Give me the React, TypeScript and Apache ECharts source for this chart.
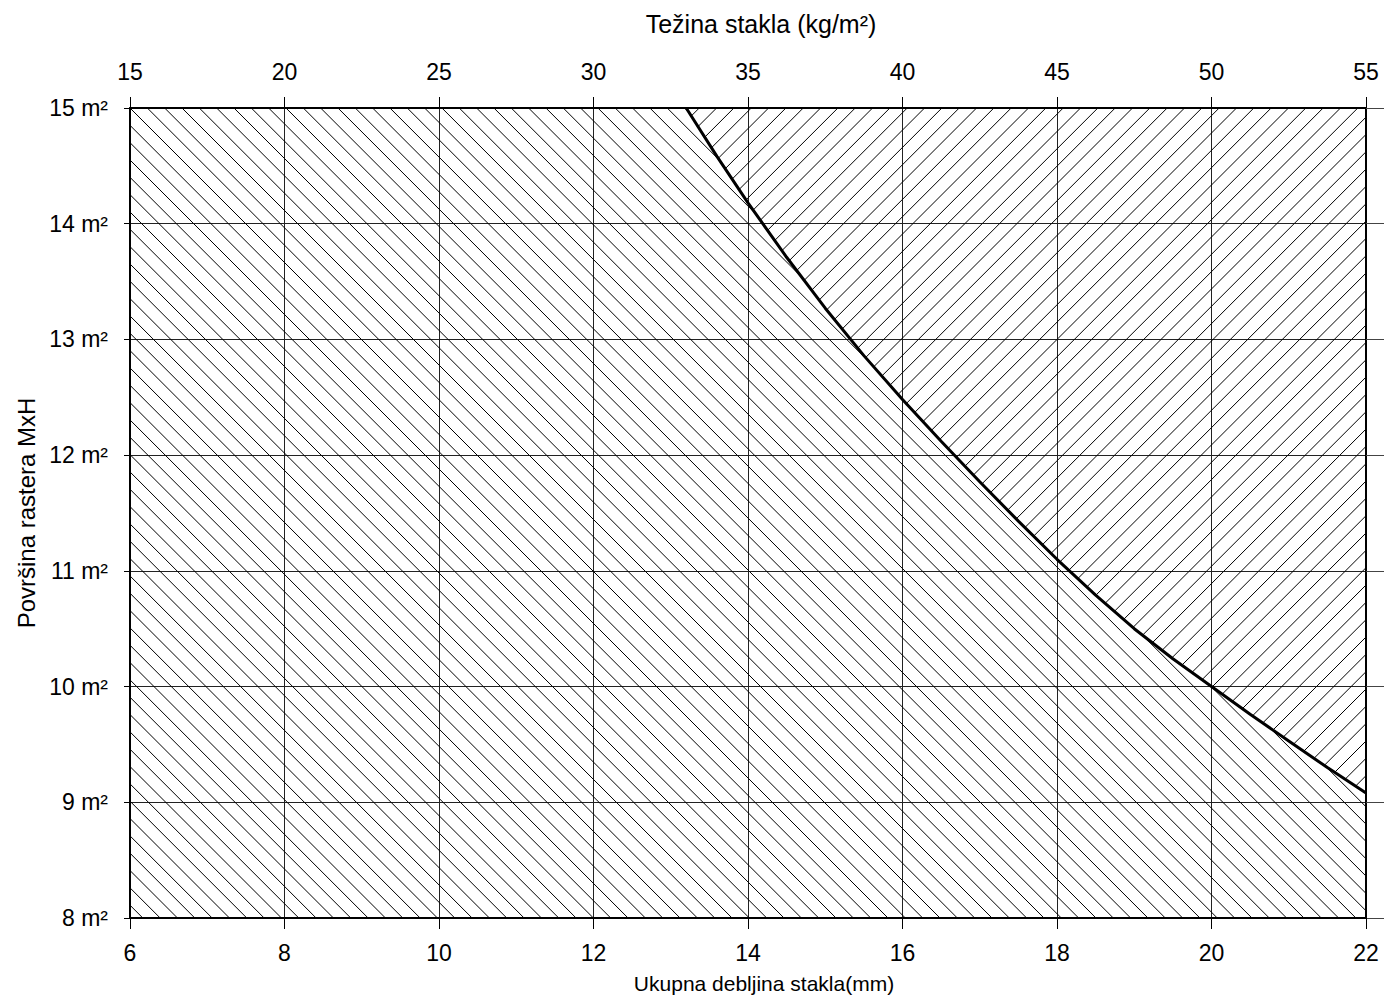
import React, { useEffect, useRef } from "react";
import * as echarts from "echarts";

// Bottom axis: total glass thickness (mm)
const thicknessMin = 6;
const thicknessMax = 22;
const thicknessStep = 2;
// Top axis: glass weight (kg/m²)
const weightMin = 15;
const weightMax = 55;
const weightStep = 5;
// Left axis: raster area (m²)
const areaMin = 8;
const areaMax = 15;
const areaStep = 1;

// Limit curve
const curveThickness = [
  13.2, 13.6, 14, 14.5, 15, 15.5, 16, 16.5, 17, 17.5, 18, 18.5, 19, 19.5, 20, 20.5, 21, 21.5, 22,
];
const curveArea = [
  15.0, 14.58, 14.18, 13.71, 13.27, 12.86, 12.48, 12.12, 11.77, 11.43, 11.1, 10.79, 10.5, 10.24, 10.0,
  9.76, 9.53, 9.3, 9.08,
];

const xTitle = "Ukupna debljina stakla(mm)";
const x2Title = "Težina stakla (kg/m²)";
const yTitle = "Površina rastera MxH";

const FONT = "'Liberation Sans', Arial, Helvetica, sans-serif";

type Pt = [number, number];

function hatchLines(poly: Pt[], dir: number, spacing: number, phase: number) {
  // dir = 1: "\\" lines (x - y = c); dir = -1: "//" lines (x + y = c)
  const vals = poly.map((p) => p[0] - dir * p[1]);
  const cMin = Math.min(...vals);
  const cMax = Math.max(...vals);
  const out: any[] = [];
  const k0 = Math.ceil((cMin - phase) / spacing);
  const n = poly.length;
  for (let c = phase + k0 * spacing; c <= cMax; c += spacing) {
    const xs: number[] = [];
    for (let i = 0; i < n; i++) {
      const a = poly[i];
      const b = poly[(i + 1) % n];
      const fa = vals[i] - c;
      const fb = vals[(i + 1) % n] - c;
      if ((fa < 0) !== (fb < 0)) {
        const t = fa / (fa - fb);
        xs.push(a[0] + t * (b[0] - a[0]));
      }
    }
    xs.sort((p, q) => p - q);
    for (let j = 0; j + 1 < xs.length; j += 2) {
      const x1 = xs[j];
      const x2 = xs[j + 1];
      out.push({
        type: "line",
        shape: { x1, y1: dir * (x1 - c), x2, y2: dir * (x2 - c) },
        style: { stroke: "#000", lineWidth: 1 },
        silent: true,
      });
    }
  }
  return out;
}

export default function App() {
  const ref = useRef<HTMLDivElement>(null);

  useEffect(() => {
    if (!ref.current) return;
    const chart = echarts.init(ref.current, null, { renderer: "svg" });

    const curveData = curveThickness.map((t, i) => [t, curveArea[i]]);

    const renderHatch = (params: any, api: any) => {
      const curvePx: Pt[] = curveData.map((d) => api.coord(d) as Pt);
      const tl = api.coord([thicknessMin, areaMax]) as Pt;
      const tr = api.coord([thicknessMax, areaMax]) as Pt;
      const br = api.coord([thicknessMax, areaMin]) as Pt;
      const bl = api.coord([thicknessMin, areaMin]) as Pt;
      const spacing = 17.33;
      const leftPoly: Pt[] = [tl, ...curvePx, br, bl];
      const rightPoly: Pt[] = [tr, ...curvePx.slice().reverse()];
      const left = hatchLines(leftPoly, 1, spacing, tl[0] - tl[1]);
      const right = hatchLines(rightPoly, -1, spacing, tl[0] + 14.7 + tl[1]);
      return { type: "group", children: [...left, ...right] };
    };

    chart.setOption({
      animation: false,
      backgroundColor: "#fff",
      textStyle: { fontFamily: FONT, color: "#000" },
      grid: { left: 130, right: 32, top: 108, bottom: 85 },
      xAxis: [
        {
          type: "value",
          position: "bottom",
          min: thicknessMin,
          max: thicknessMax,
          interval: thicknessStep,
          name: xTitle,
          nameLocation: "middle",
          nameGap: 55,
          nameTextStyle: { fontSize: 21, color: "#000", fontFamily: FONT, padding: [0, 0, 0, 32] },
          axisLine: { show: true, onZero: false, lineStyle: { color: "#000", width: 2 } },
          axisTick: { show: true, length: 11, lineStyle: { color: "#000", width: 1 } },
          axisLabel: { fontSize: 23, color: "#000", fontFamily: FONT, margin: 23 },
          splitLine: { show: true, lineStyle: { color: "#222", width: 1 } },
        },
        {
          type: "value",
          position: "top",
          min: weightMin,
          max: weightMax,
          interval: weightStep,
          name: x2Title,
          nameLocation: "middle",
          nameGap: 72,
          nameTextStyle: { fontSize: 25, color: "#000", fontFamily: FONT, padding: [0, 0, 0, 26] },
          axisLine: { show: true, onZero: false, lineStyle: { color: "#000", width: 2 } },
          axisTick: { show: true, length: 11, lineStyle: { color: "#000", width: 1 } },
          axisLabel: { fontSize: 23, color: "#000", fontFamily: FONT, margin: 25 },
          splitLine: { show: false },
        },
      ],
      yAxis: [
        {
          type: "value",
          position: "left",
          min: areaMin,
          max: areaMax,
          interval: areaStep,
          name: yTitle,
          nameLocation: "middle",
          nameGap: 88,
          nameTextStyle: { fontSize: 24, color: "#000", fontFamily: FONT },
          axisLine: { show: true, onZero: false, lineStyle: { color: "#000", width: 2 } },
          axisTick: { show: true, length: 6, lineStyle: { color: "#000", width: 1 } },
          axisLabel: {
            fontSize: 23,
            color: "#000",
            fontFamily: FONT,
            margin: 22,
            formatter: (v: number) => `${v} m²`,
          },
          splitLine: { show: true, lineStyle: { color: "#222", width: 1 } },
        },
        {
          type: "value",
          position: "right",
          min: areaMin,
          max: areaMax,
          interval: areaStep,
          axisLine: { show: true, onZero: false, lineStyle: { color: "#000", width: 2 } },
          axisTick: { show: true, length: 18, lineStyle: { color: "#444", width: 1 } },
          axisLabel: { show: false },
          splitLine: { show: false },
        },
      ],
      series: [
        {
          type: "custom",
          name: "hatch",
          xAxisIndex: 0,
          yAxisIndex: 0,
          silent: true,
          clip: false,
          renderItem: renderHatch,
          data: [[thicknessMin, areaMin]],
          z: 1,
        },
        {
          type: "line",
          name: "granica",
          xAxisIndex: 0,
          yAxisIndex: 0,
          data: curveData,
          symbol: "none",
          smooth: false,
          lineStyle: { color: "#000", width: 3 },
          silent: true,
          z: 5,
        },
      ],
    });

    return () => {
      chart.dispose();
    };
  }, []);

  return (
    <div
      ref={ref}
      style={{ position: "absolute", left: 0, top: 0, width: 1398, height: 1003, background: "#fff" }}
    />
  );
}
